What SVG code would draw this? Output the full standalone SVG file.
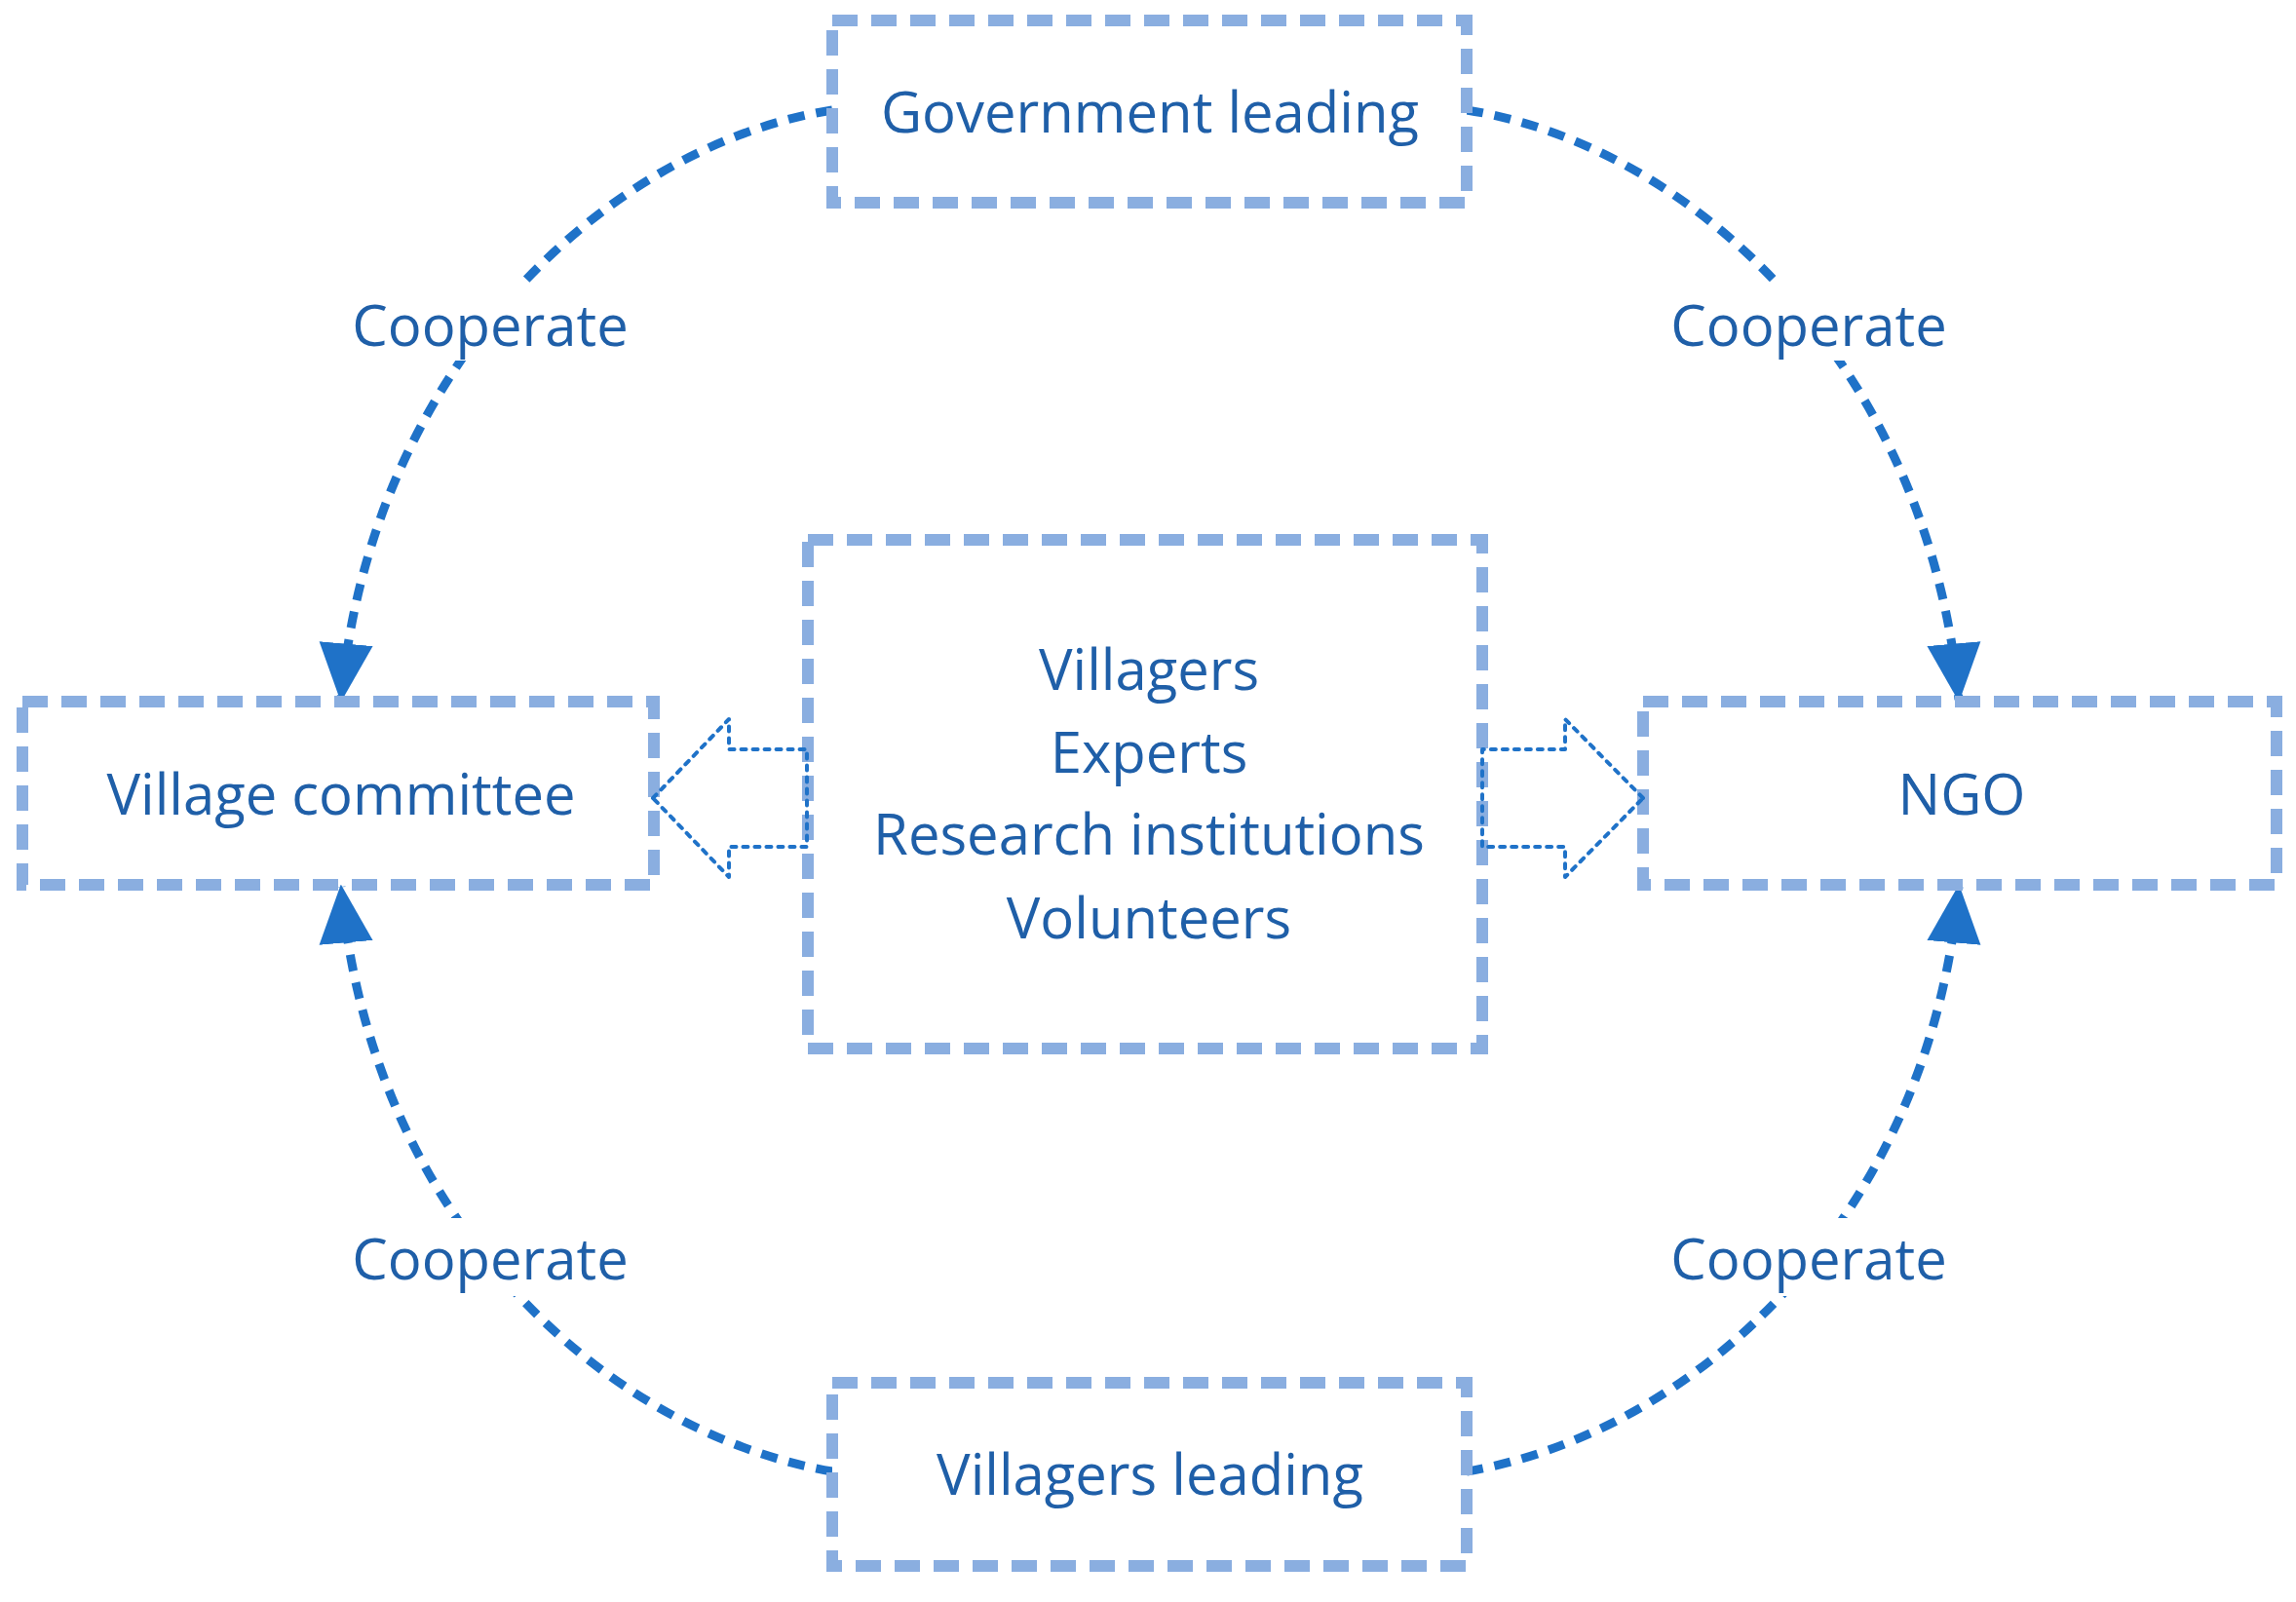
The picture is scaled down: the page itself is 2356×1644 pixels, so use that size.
<svg xmlns="http://www.w3.org/2000/svg" width="2356" height="1644" viewBox="0 0 2356 1644">
<style>
.box{fill:#fff;stroke:#8aaee0;stroke-width:12;stroke-dasharray:26 14}
.t{font-family:"Open Sans","Liberation Sans",sans-serif;font-size:58px;fill:#1f5fa8;text-anchor:middle}
.arc{fill:none;stroke:#1f72c8;stroke-width:9;stroke-dasharray:17 12}
.blk{fill:none;stroke:#1f72c8;stroke-width:4;stroke-dasharray:5 7;stroke-linecap:round;stroke-linejoin:round}
.gap{fill:#fff}
</style>
<defs>
<marker id="ah" markerUnits="userSpaceOnUse" markerWidth="60" markerHeight="60" viewBox="0 -25 50 50" refX="48" refY="0" orient="auto">
<path d="M0,-23 L50,0 L0,23 z" fill="#1f72c8"/>
</marker>
</defs>
<rect width="2356" height="1644" fill="#fff"/>
<g id="connectors">
<path class="arc" d="M854,113 C620,150 380,380 350,718" marker-end="url(#ah)"/>
<path class="arc" d="M1505,113 C1740,150 1980,380 2010,718" marker-end="url(#ah)"/>
<path class="arc" d="M854,1510 C620,1470 380,1250 350,910" marker-end="url(#ah)"/>
<path class="arc" d="M1505,1510 C1740,1470 1980,1250 2010,910" marker-end="url(#ah)"/>
<rect class="gap" x="335" y="290" width="340" height="80"/>
<rect class="gap" x="1686" y="290" width="340" height="80"/>
<rect class="gap" x="335" y="1250" width="340" height="80"/>
<rect class="gap" x="1686" y="1250" width="340" height="80"/>
<text class="t" x="503" y="355">Cooperate</text>
<text class="t" x="1856" y="355">Cooperate</text>
<text class="t" x="503" y="1313">Cooperate</text>
<text class="t" x="1856" y="1313">Cooperate</text>
</g>
<g id="gov"><rect class="box" x="854" y="21" width="651" height="187"/><text class="t" x="1180" y="136">Government leading</text></g>
<g id="vc"><rect class="box" x="23" y="720" width="648" height="188"/><text class="t" x="350" y="836">Village committee</text></g>
<g id="ngo"><rect class="box" x="1686" y="720" width="650" height="188"/><text class="t" x="2013" y="836">NGO</text></g>
<g id="center"><rect class="box" x="829" y="554" width="692" height="522"/>
<text class="t" x="1179" y="708">Villagers</text>
<text class="t" x="1179" y="793">Experts</text>
<text class="t" x="1179" y="877">Research institutions</text>
<text class="t" x="1179" y="963">Volunteers</text></g>
<g id="vl"><rect class="box" x="854" y="1419" width="651" height="188"/><text class="t" x="1180" y="1534">Villagers leading</text></g>
<g id="blockarrows">
<polygon class="blk" points="670,819 748,738 748,769 828,769 828,869 748,869 748,900"/>
<polygon class="blk" points="1686,819 1606,738 1606,769 1521,769 1521,869 1606,869 1606,900"/>
</g>
</svg>
